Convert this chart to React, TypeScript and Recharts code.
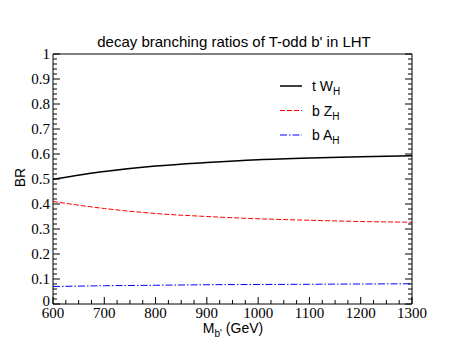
import React from 'react';
import { LineChart, Line, XAxis, YAxis, Legend, Customized } from 'recharts';

const masses = [600, 700, 800, 900, 1000, 1100, 1200, 1300];
const brTWH = [0.499, 0.53, 0.552, 0.566, 0.577, 0.584, 0.589, 0.593];
const brBZH = [0.41, 0.382, 0.362, 0.35, 0.341, 0.335, 0.33, 0.327];
const brBAH = [0.07, 0.073, 0.075, 0.077, 0.078, 0.079, 0.08, 0.081];

const xMajorTicks = [600, 700, 800, 900, 1000, 1100, 1200, 1300];
const yMajorTicks = [0, 0.1, 0.2, 0.3, 0.4, 0.5, 0.6, 0.7, 0.8, 0.9, 1];

const seriesNames = ['t W_H', 'b Z_H', 'b A_H'];
const titleText = "decay branching ratios of T-odd b' in LHT";
const xLabelMain = 'M';
const xLabelSub = "b'";
const xLabelRest = ' (GeV)';
const yLabelText = 'BR';

const subdivide = (major: number[], n: number) => {
  const out: number[] = [];
  for (let i = 0; i < major.length - 1; i++) {
    const step = (major[i + 1] - major[i]) / n;
    for (let k = 0; k < n; k++) out.push(Math.round((major[i] + k * step) * 1e6) / 1e6);
  }
  out.push(major[major.length - 1]);
  return out;
};
const xTicks = subdivide(xMajorTicks, 4);
const yTicks = subdivide(yMajorTicks, 5);

const isMajorX = (v: number) => xMajorTicks.some((m) => Math.abs(m - v) < 1e-6);
const isMajorY = (v: number) => yMajorTicks.some((m) => Math.abs(m - v) < 1e-6);

const data = masses.map((m, i) => ({ m, tw: brTWH[i], bz: brBZH[i], ba: brBAH[i] }));

const MAJ = 7;
const MIN = 4;
const serif = '"Liberation Serif", "Times New Roman", Times, serif';
const sans = '"Liberation Sans", Arial, Helvetica, sans-serif';
const serifStyle = { fontFamily: serif, fontSize: 15 };
const sansStyle = { fontFamily: sans };

const BottomTick = (p: any) => {
  const { x, y, payload } = p;
  const v = payload.value;
  const major = isMajorX(v);
  return (
    <g>
      <line x1={x} x2={x} y1={y} y2={y - (major ? MAJ : MIN)} stroke="#000" strokeWidth={1} />
      {major && (
        <text x={x} y={y + 14} textAnchor="middle" fontFamily={serif} fontSize={15} style={serifStyle} fill="#000">
          {v}
        </text>
      )}
    </g>
  );
};

const TopTick = (p: any) => {
  const { x, y, payload } = p;
  const major = isMajorX(payload.value);
  return <line x1={x} x2={x} y1={y} y2={y + (major ? MAJ : MIN)} stroke="#000" strokeWidth={1} />;
};

const LeftTick = (p: any) => {
  const { x, y, payload } = p;
  const v = payload.value;
  const major = isMajorY(v);
  const dy = Math.abs(v) < 1e-9 ? 2 : 5;
  return (
    <g>
      <line x1={x} x2={x + (major ? MAJ : MIN)} y1={y} y2={y} stroke="#000" strokeWidth={1} />
      {major && (
        <text x={x - 3} y={y + dy} textAnchor="end" fontFamily={serif} fontSize={15} style={serifStyle} fill="#000">
          {String(Math.round(v * 10) / 10)}
        </text>
      )}
    </g>
  );
};

const RightTick = (p: any) => {
  const { x, y, payload } = p;
  const major = isMajorY(payload.value);
  return <line x1={x} x2={x - (major ? MAJ : MIN)} y1={y} y2={y} stroke="#000" strokeWidth={1} />;
};

const styles = [
  { color: '#000000', dash: undefined as string | undefined, width: 1.5 },
  { color: '#ff0000', dash: '5 2', width: 1 },
  { color: '#0000ff', dash: '7 2 1.5 2', width: 1 },
];

const LegendContent = () => (
  <svg width={130} height={80} style={{ display: 'block' }}>
    {seriesNames.map((name, i) => {
      const [main, sub] = name.split('_');
      const cy = 16 + i * 24.5;
      const st = styles[i];
      return (
        <g key={name}>
          <line x1={10} x2={32} y1={cy} y2={cy} stroke={st.color} strokeWidth={st.width} strokeDasharray={st.dash} />
          <text x={42} y={cy + 5} style={{ ...sansStyle, fontSize: 14 }} fill="#000">
            {main}
            <tspan style={{ fontSize: 10 }} dy={4}>{sub}</tspan>
          </text>
        </g>
      );
    })}
  </svg>
);

const Texts = () => (
  <g>
    <text x={234} y={46.5} textAnchor="middle" style={{ ...sansStyle, fontSize: 15 }} fill="#000">
      {titleText}
    </text>
    <text x={233} y={333} textAnchor="middle" style={{ ...sansStyle, fontSize: 14 }} fill="#000">
      {xLabelMain}
      <tspan style={{ fontSize: 10 }} dy={4}>{xLabelSub}</tspan>
      <tspan dy={-4}>{xLabelRest}</tspan>
    </text>
    <text
      x={25}
      y={177.5}
      textAnchor="middle"
      style={{ ...sansStyle, fontSize: 14 }}
      fill="#000"
      transform="rotate(-90, 25, 177.5)"
    >
      {yLabelText}
    </text>
  </g>
);

export default function App() {
  return (
    <div style={{ position: 'absolute', left: 0, top: 0, width: 464, height: 358, background: '#fff' }}>
      <LineChart width={464} height={358} data={data} margin={{ top: 53, right: 51, bottom: 53, left: 52 }}>
        <XAxis
          dataKey="m"
          type="number"
          domain={[600, 1300]}
          ticks={xTicks}
          interval={0}
          height={1}
          tickSize={0}
          tickMargin={0}
          tick={<BottomTick />}
          axisLine={{ stroke: '#000' }}
          allowDataOverflow
        />
        <XAxis
          xAxisId="top"
          orientation="top"
          type="number"
          domain={[600, 1300]}
          ticks={xTicks}
          interval={0}
          height={1}
          tickSize={0}
          tickMargin={0}
          tick={<TopTick />}
          axisLine={{ stroke: '#000' }}
          allowDataOverflow
        />
        <YAxis
          type="number"
          domain={[0, 1]}
          ticks={yTicks}
          interval={0}
          width={1}
          tickSize={0}
          tickMargin={0}
          tick={<LeftTick />}
          axisLine={{ stroke: '#000' }}
          allowDataOverflow
        />
        <YAxis
          yAxisId="right"
          orientation="right"
          type="number"
          domain={[0, 1]}
          ticks={yTicks}
          interval={0}
          width={1}
          tickSize={0}
          tickMargin={0}
          tick={<RightTick />}
          axisLine={{ stroke: '#000' }}
          allowDataOverflow
        />
        <Line dataKey="tw" name={seriesNames[0]} type="monotone" stroke={styles[0].color} strokeWidth={styles[0].width} dot={false} isAnimationActive={false} />
        <Line dataKey="bz" name={seriesNames[1]} type="monotone" stroke={styles[1].color} strokeWidth={styles[1].width} strokeDasharray={styles[1].dash} dot={false} isAnimationActive={false} />
        <Line dataKey="ba" name={seriesNames[2]} type="monotone" stroke={styles[2].color} strokeWidth={styles[2].width} strokeDasharray={styles[2].dash} dot={false} isAnimationActive={false} />
        <Legend
          layout="vertical"
          align="center"
          verticalAlign="middle"
          content={<LegendContent />}
          wrapperStyle={{ position: 'absolute', left: 270, top: 70, width: 130, height: 80 }}
        />
        <Customized component={<Texts />} />
      </LineChart>
    </div>
  );
}
